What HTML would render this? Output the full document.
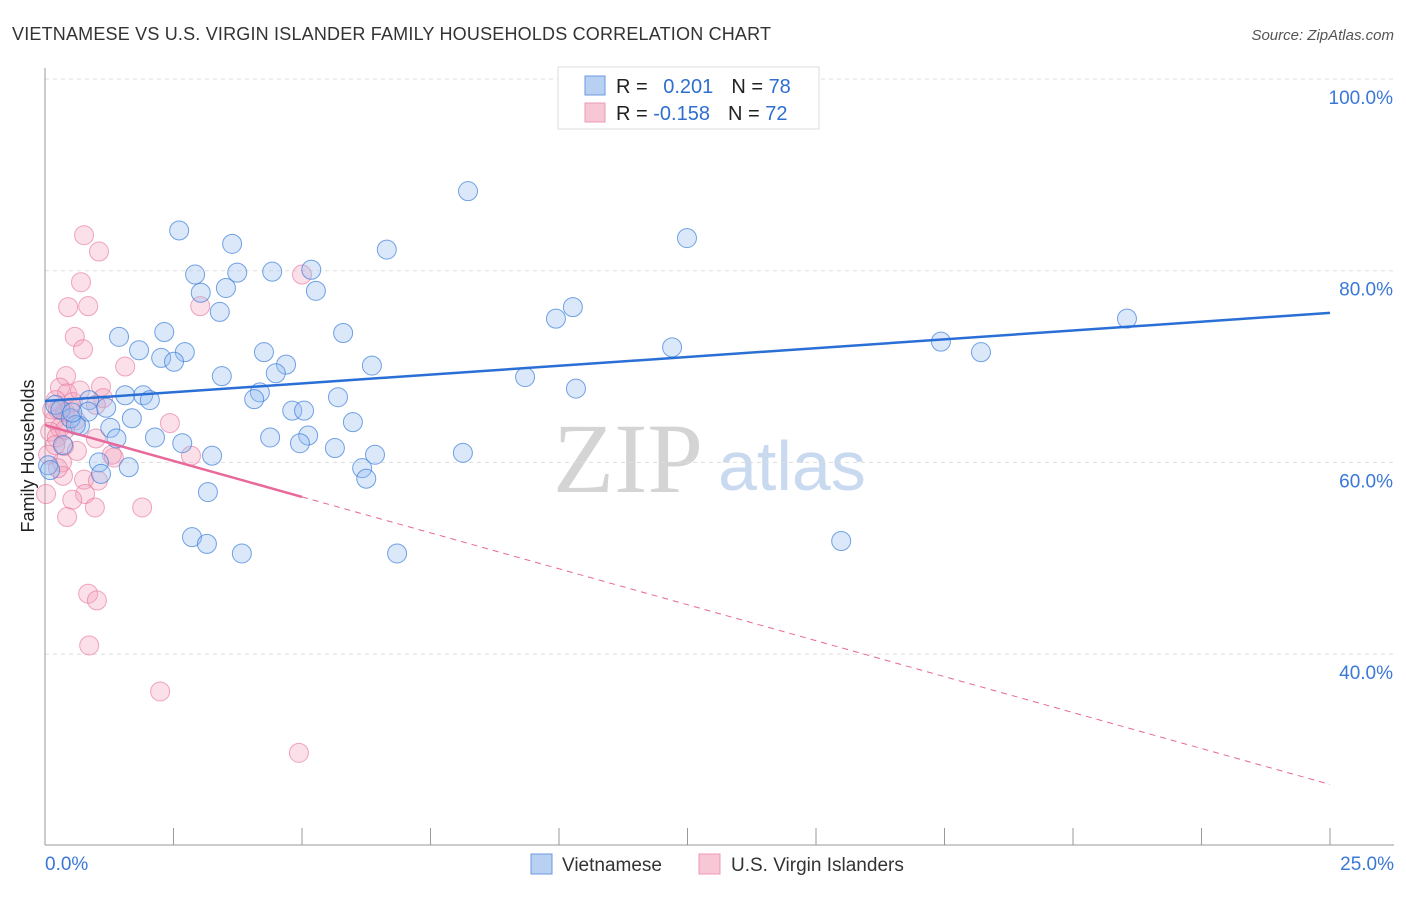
<!DOCTYPE html>
<html><head><meta charset="utf-8"><style>
body{margin:0;background:#fff;font-family:"Liberation Sans",sans-serif}
</style></head><body>
<svg id="chart" width="1406" height="892" xmlns="http://www.w3.org/2000/svg">
<text x="12" y="40" font-size="18" fill="#333" textLength="759">VIETNAMESE VS U.S. VIRGIN ISLANDER FAMILY HOUSEHOLDS CORRELATION CHART</text>
<text x="1394" y="40" font-size="15" fill="#555" font-style="italic" text-anchor="end">Source: ZipAtlas.com</text>
<text x="553" y="492" font-size="100" fill="#d4d4d4" font-family="Liberation Serif,serif">ZIP</text>
<text x="718" y="490" font-size="70" fill="#c9daf0">atlas</text>
<g id="grid"></g>
<line x1="45" y1="68" x2="45" y2="845" stroke="#999"/>
<line x1="45" y1="845" x2="1394" y2="845" stroke="#999"/>
<g id="ticks"></g>
<text transform="translate(34,456) rotate(-90)" font-size="18" fill="#222" text-anchor="middle">Family Households</text>
<g id="pts"></g>
<g id="trend"></g>
<g>
<rect x="558" y="67" width="261" height="62" fill="#fff" stroke="#ddd"/>
<rect x="585" y="76" width="20" height="19" fill="#b8d0f2" stroke="#6a9ae0"/>
<rect x="585" y="103" width="20" height="19" fill="#f8c7d6" stroke="#ec9ab4"/>
<text x="616" y="93" font-size="20" fill="#222">R = <tspan fill="#2f6fd0" dx="10">0.201</tspan><tspan dx="18" fill="#222">N = </tspan><tspan fill="#2f6fd0">78</tspan></text>
<text x="616" y="120" font-size="20" fill="#222">R = <tspan fill="#2f6fd0">-0.158</tspan><tspan dx="18" fill="#222">N = </tspan><tspan fill="#2f6fd0">72</tspan></text>
</g>
<g>
<rect x="531" y="854" width="21" height="20" fill="#b8d0f2" stroke="#6a9ae0"/>
<text x="562" y="871" font-size="19" fill="#333">Vietnamese</text>
<rect x="699" y="854" width="21" height="20" fill="#f8c7d6" stroke="#ec9ab4"/>
<text x="731" y="871" font-size="19" fill="#333">U.S. Virgin Islanders</text>
</g>
</svg>
<script>
const blueX=[8.23,2.61,12.49,3.64,6.65,2.92,3.74,4.42,5.18,3.52,3.03,5.27,3.40,10.27,9.94,21.05,1.44,2.32,5.80,1.83,2.72,2.26,2.51,4.26,12.2,17.43,18.21,4.69,6.36,4.49,3.44,9.34,10.33,1.56,1.91,2.04,4.18,4.07,5.70,0.86,1.19,4.81,5.04,1.69,5.99,0.68,1.27,1.39,2.14,2.67,4.38,5.12,4.96,5.64,3.25,6.42,8.13,1.05,1.63,6.17,6.25,1.09,3.17,2.86,3.15,3.83,6.85,15.49,0.06,0.2,0.3,0.5,0.6,0.35,0.1,0.84,0.53];
const blueY=[88.3,84.2,83.4,82.8,82.2,79.6,79.8,79.9,80.1,78.2,77.7,77.9,75.7,76.2,75.0,75.0,73.1,73.6,73.5,71.7,71.5,70.9,70.5,71.5,72.0,72.6,71.5,70.2,70.1,69.3,69.0,68.9,67.7,67.0,67.0,66.5,67.3,66.6,66.8,66.5,65.7,65.4,65.4,64.6,64.2,63.8,63.6,62.5,62.6,62.0,62.6,62.8,62.0,61.5,60.7,60.8,61.0,60.0,59.5,59.4,58.3,58.8,56.9,52.2,51.5,50.5,50.5,51.8,59.7,66.0,65.5,64.6,63.9,61.8,59.2,65.3,65.2];
const pinkX=[0.76,1.05,0.70,5.0,0.45,0.84,3.02,0.58,0.74,1.56,0.41,0.29,1.09,0.43,1.13,0.21,0.54,0.99,2.43,0.25,0.39,0.18,0.6,0.29,0.1,0.23,0.99,0.37,0.62,1.34,2.84,0.33,0.76,0.35,1.03,0.78,0.53,0.02,1.89,0.97,0.43,0.84,1.01,0.86,2.24,4.94,0.14,0.49,0.2,0.06,0.25,0.68,1.3,0.39];
const pinkY=[83.7,82.0,78.8,79.6,76.2,76.3,76.3,73.1,71.8,70.0,69.0,67.8,67.9,67.2,66.7,66.5,66.3,66.0,64.1,65.5,65.2,64.4,64.4,63.6,63.2,62.6,62.5,61.7,61.2,60.5,60.7,60.0,58.2,58.6,58.1,56.7,56.1,56.7,55.3,55.3,54.3,46.3,45.6,40.9,36.1,29.7,65.5,65.7,61.8,60.8,59.4,67.5,60.8,63.4];
const blueTrend=[66.4,75.6];
const pinkTrend=[63.9,26.4];
const pinkSolidEnd=5.0;
const xTicks=[0,2.5,5,7.5,10,12.5,15,17.5,20,22.5,25];
const yTicks=[100,80,60,40];
const yTickLabels=["100.0%","80.0%","60.0%","40.0%"];
const xs=v=>45+v*51.4, ys=v=>79+(100-v)*9.585;
const NS="http://www.w3.org/2000/svg";
function mk(tag,attrs,parent){const e=document.createElementNS(NS,tag);for(const k in attrs)e.setAttribute(k,attrs[k]);document.getElementById(parent).appendChild(e);return e;}
yTicks.forEach((v,i)=>{
 const g=mk('line',{x1:45,x2:1394,y1:ys(v),y2:ys(v),stroke:'#ddd','stroke-dasharray':'4,4'},'grid');
 
 
 const t=mk('text',{x:1393,y:ys(v)+25,'font-size':19,fill:'#3a78d8','text-anchor':'end'},'grid');
 t.textContent=yTickLabels[i];
 
 
});
xTicks.forEach(v=>{
 const l=mk('line',{x1:xs(v),x2:xs(v),y1:828,y2:845,stroke:'#999'},'ticks');
 
 
});
[[0,"0.0%","start",45],[25,"25.0%","end",1394]].forEach(a=>{
 const t=mk('text',{x:a[3],y:870,'font-size':19,fill:'#3a78d8','text-anchor':a[2]},'ticks');
 t.textContent=a[1];
 
 
});
pinkX.forEach((x,i)=>{
 const c=mk('circle',{cx:xs(x),cy:ys(pinkY[i]),r:9.5,fill:'rgba(244,160,188,0.33)',stroke:'rgba(232,120,158,0.65)','stroke-width':1},'pts');
 
 
});
blueX.forEach((x,i)=>{
 const c=mk('circle',{cx:xs(x),cy:ys(blueY[i]),r:9.5,fill:'rgba(150,190,240,0.35)',stroke:'rgba(60,125,215,0.7)','stroke-width':1},'pts');
 
 
});
const bl=mk('line',{x1:xs(0),y1:ys(blueTrend[0]),x2:xs(25),y2:ys(blueTrend[1]),stroke:'#2a6fd6','stroke-width':2.5},'trend');


const pm=pinkTrend[0]+(pinkTrend[1]-pinkTrend[0])*pinkSolidEnd/25;
const pl=mk('line',{x1:xs(0),y1:ys(pinkTrend[0]),x2:xs(pinkSolidEnd),y2:ys(pm),stroke:'#e8689a','stroke-width':2.5},'trend');


const pd=mk('line',{x1:xs(pinkSolidEnd),y1:ys(pm),x2:xs(25),y2:ys(pinkTrend[1]),stroke:'#e8689a','stroke-width':1,'stroke-dasharray':'6,5'},'trend');


</script>
</body></html>
